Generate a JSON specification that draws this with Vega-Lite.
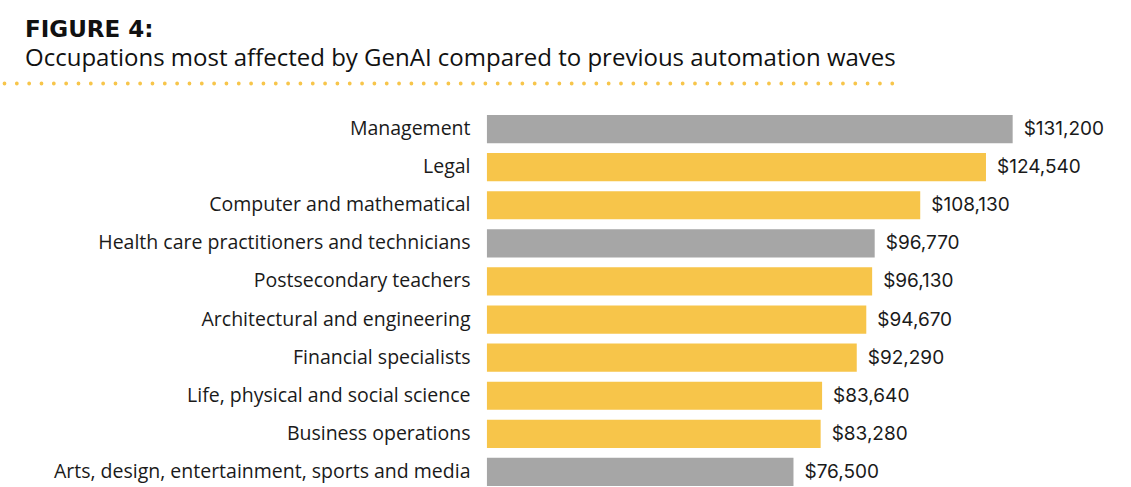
{
  "$schema": "https://vega.github.io/schema/vega-lite/v6.json",
  "background": "white",
  "padding": {"left": 4, "top": 19, "right": 0, "bottom": 0},
  "title": {
    "text": "FIGURE 4:",
    "subtitle": "Occupations most affected by GenAI compared to previous automation waves",
    "anchor": "start",
    "frame": "group",
    "dx": 21,
    "font": "DejaVu Sans",
    "fontSize": 23,
    "fontWeight": "bold",
    "color": "#111111",
    "subtitleFont": "Open Sans",
    "subtitleFontSize": 24,
    "subtitleColor": "#111111",
    "subtitlePadding": 5,
    "offset": 11
  },
  "config": {"view": {"stroke": null}, "concat": {"spacing": 27}},
  "datasets": {
    "occ": [
      {"occupation": "Management", "wage": 131200, "group": "Previous automation waves"},
      {"occupation": "Legal", "wage": 124540, "group": "GenAI"},
      {"occupation": "Computer and mathematical", "wage": 108130, "group": "GenAI"},
      {"occupation": "Health care practitioners and technicians", "wage": 96770, "group": "Previous automation waves"},
      {"occupation": "Postsecondary teachers", "wage": 96130, "group": "GenAI"},
      {"occupation": "Architectural and engineering", "wage": 94670, "group": "GenAI"},
      {"occupation": "Financial specialists", "wage": 92290, "group": "GenAI"},
      {"occupation": "Life, physical and social science", "wage": 83640, "group": "GenAI"},
      {"occupation": "Business operations", "wage": 83280, "group": "GenAI"},
      {"occupation": "Arts, design, entertainment, sports and media", "wage": 76500, "group": "Previous automation waves"}
    ]
  },
  "vconcat": [
    {
      "width": 889,
      "height": 1,
      "data": {"values": []},
      "mark": "point",
      "encoding": {
        "x": {
          "field": "v",
          "type": "quantitative",
          "scale": {"domain": [0, 1]},
          "axis": {
            "orient": "bottom",
            "ticks": false,
            "labels": false,
            "title": null,
            "grid": false,
            "domainColor": "#f7c54a",
            "domainWidth": 3.8,
            "domainDash": [0, 12.33],
            "domainCap": "round"
          }
        }
      }
    },
    {
      "width": 1084,
      "height": 381,
      "data": {"name": "occ"},
      "encoding": {
        "y": {
          "field": "occupation",
          "type": "nominal",
          "sort": null,
          "scale": {"paddingInner": 0.26, "paddingOuter": 0.13},
          "axis": {
            "title": null,
            "ticks": false,
            "domain": false,
            "offset": -483,
            "labelFont": "Open Sans",
            "labelFontSize": 19.5,
            "labelColor": "#1a1a1a",
            "labelPadding": 17,
            "labelLimit": 600
          }
        },
        "x": {
          "field": "wage",
          "type": "quantitative",
          "scale": {"domain": [-120520, 150000], "nice": false},
          "axis": null
        }
      },
      "layer": [
        {
          "mark": {"type": "bar"},
          "encoding": {
            "color": {
              "field": "group",
              "type": "nominal",
              "scale": {"domain": ["GenAI", "Previous automation waves"], "range": ["#f7c54a", "#a6a6a6"]},
              "legend": null
            }
          }
        },
        {
          "mark": {"type": "text", "align": "left", "dx": 11, "font": "Inter", "fontSize": 19, "color": "#1a1a1a"},
          "encoding": {
            "text": {"field": "wage", "type": "quantitative", "format": "$,.0f"}
          }
        }
      ]
    }
  ]
}
